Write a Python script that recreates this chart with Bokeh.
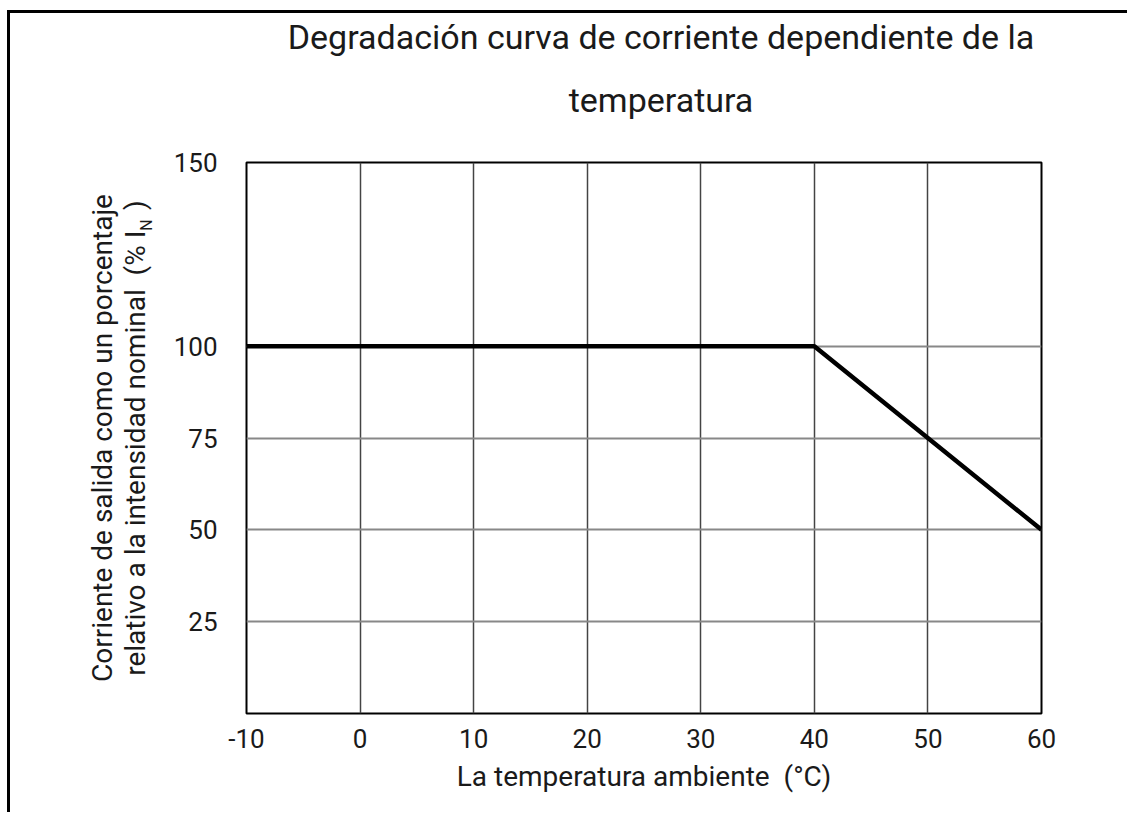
from bokeh.plotting import figure
from bokeh.models import FixedTicker, Range1d, LinearAxis
from bokeh.embed import file_html
from bokeh.resources import INLINE

# Data
temps = [-10, 40, 60]
current_pct = [100, 100, 50]
x_ticks = [-10, 0, 10, 20, 30, 40, 50, 60]
y_ticks = [25, 50, 75, 100, 150]

title_lines = ["Degradación curva de corriente dependiente de la", "temperatura"]
x_label = "La temperatura ambiente\u00a0 (°C)"
y_label = "Corriente de salida como un porcentaje\nrelativo a la intensidad nominal\u00a0 (% I\u00a0\u00a0 )"
y_label_sub = "N"

FONT = "Roboto"
TXT = "#1a1a1a"

# layout constants
W, H = 1120, 802
ML, MT = 236, 134
FW, FH = 795, 566
MR = W - ML - FW
MB = H - MT - FH
TITLE_X = 26.5   # horizontal centre of the title lines, in axis units
SUB_Y = 133      # vertical place of the subscript N, in axis units

p = figure(width=W, height=H, output_backend="svg", toolbar_location=None,
           x_range=Range1d(-10, 60), y_range=Range1d(0, 150),
           min_border_left=ML, min_border_top=MT, min_border_right=MR, min_border_bottom=MB)
p.styles = {"border-left": "3px solid black", "border-top": "3px solid black",
            "margin-top": "10px", "margin-left": "7px"}
p.title.visible = False

# main axes (grab them before any extra axis is added)
xa = p.below[0]
ya = p.left[0]

p.line(temps, current_pct, line_color="black", line_width=4.5)

xa.ticker = FixedTicker(ticks=x_ticks)
ya.ticker = FixedTicker(ticks=y_ticks)
xa.major_label_overrides = {t: str(t) for t in x_ticks}
for ax in (xa, ya):
    ax.major_tick_line_color = None
    ax.minor_tick_line_color = None
    ax.axis_line_color = None
    ax.major_label_text_font = FONT
    ax.major_label_text_font_size = "26px"
    ax.major_label_text_color = TXT
    ax.axis_label_text_font = FONT
    ax.axis_label_text_font_style = "normal"
    ax.axis_label_text_color = TXT
xa.axis_label_text_font_size = "28px"
xa.major_label_standoff = 9
ya.major_label_standoff = 23
xa.axis_label = x_label
xa.axis_label_standoff = 9


def text_axis(pos, label, size, standoff, orientation="horizontal"):
    return LinearAxis(ticker=FixedTicker(ticks=[pos]),
                      major_label_overrides={pos: label},
                      major_label_orientation=orientation,
                      major_label_text_font=FONT, major_label_text_font_size=size,
                      major_label_text_color=TXT, major_label_standoff=standoff,
                      major_tick_line_color=None, minor_tick_line_color=None,
                      major_tick_out=0, major_tick_in=0, minor_tick_out=0, minor_tick_in=0,
                      axis_line_color=None)

# title: two centred lines drawn as labels of axes placed above the plot
p.add_layout(text_axis(TITLE_X, title_lines[1], "34px", 43), "above")
p.add_layout(text_axis(TITLE_X, title_lines[0], "34px", 20), "above")

# outer left axis: carries the two-line label and the subscript N
lab_ax = text_axis(SUB_Y, y_label_sub, "16px", 14, "vertical")
lab_ax.axis_label = y_label
lab_ax.axis_label_text_font = FONT
lab_ax.axis_label_text_font_size = "28px"
lab_ax.axis_label_text_font_style = "normal"
lab_ax.axis_label_text_color = TXT
lab_ax.axis_label_text_line_height = 1.0
lab_ax.axis_label_standoff = -17
p.add_layout(lab_ax, "left")

p.xgrid.ticker = FixedTicker(ticks=x_ticks)
p.ygrid.ticker = FixedTicker(ticks=y_ticks)
p.xgrid.grid_line_color = "#444444"
p.xgrid.grid_line_width = 1.5
p.ygrid.grid_line_color = "#888888"
p.ygrid.grid_line_width = 2

p.outline_line_color = "black"
p.outline_line_width = 2
p.outline_line_alpha = 1

open("out.html", "w").write(file_html(p, INLINE))
